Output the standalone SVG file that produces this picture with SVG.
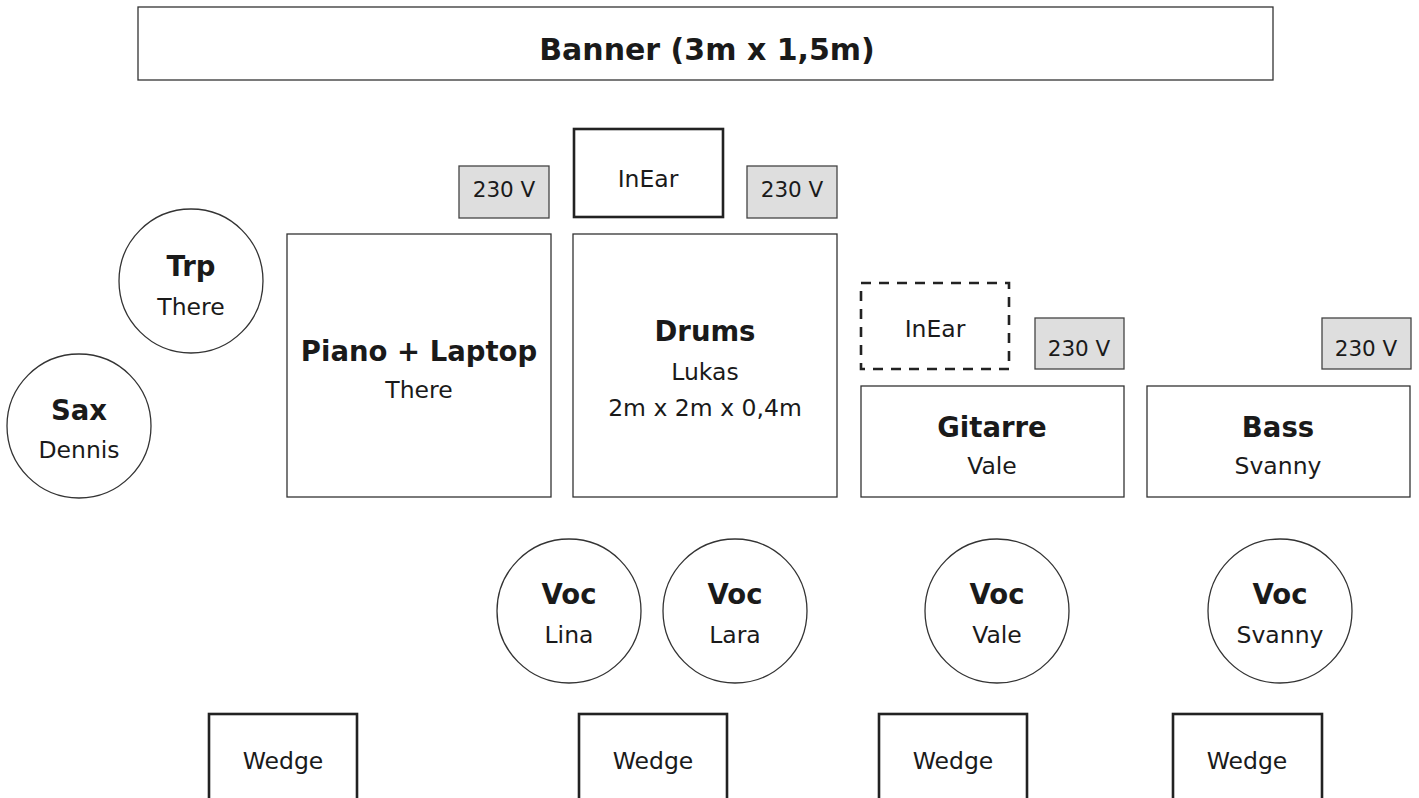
<svg xmlns="http://www.w3.org/2000/svg" width="1419" height="798" viewBox="0 0 1419 798">
<style>
.box{fill:#fff;stroke:#333;stroke-width:1.3}
.thick{fill:#fff;stroke:#222;stroke-width:2.6}
.dash{fill:none;stroke:#222;stroke-width:2.6;stroke-dasharray:10 8}
.pwr{fill:#dedede;stroke:#444;stroke-width:1.3}
text{font-family:"DejaVu Sans","Liberation Sans",sans-serif;fill:#1a1a1a;text-anchor:middle}
.b{font-weight:bold;font-size:27.5px}
.r{font-size:23.5px}
.s{font-size:21.5px}
</style>
<rect width="1419" height="798" fill="#fff"/>
<g id="banner"><rect class="box" x="138" y="7" width="1135" height="73"/><text class="b" x="707" y="60" style="font-size:30px">Banner (3m x 1,5m)</text></g>
<g id="pwr1"><rect class="pwr" x="459" y="166" width="90" height="52"/><text class="s" x="504" y="197">230 V</text></g>
<g id="inear1"><rect class="thick" x="574" y="129" width="149" height="88"/><text class="r" x="648" y="187">InEar</text></g>
<g id="pwr2"><rect class="pwr" x="747" y="166" width="90" height="52"/><text class="s" x="792" y="197">230 V</text></g>
<g id="trp"><circle class="box" cx="191" cy="281" r="72"/><text class="b" x="191" y="276">Trp</text><text class="r" x="191" y="315">There</text></g>
<g id="sax"><circle class="box" cx="79" cy="426" r="72"/><text class="b" x="79" y="420">Sax</text><text class="r" x="79" y="458">Dennis</text></g>
<g id="piano"><rect class="box" x="287" y="234" width="264" height="263"/><text class="b" x="419" y="361">Piano + Laptop</text><text class="r" x="419" y="398">There</text></g>
<g id="drums"><rect class="box" x="573" y="234" width="264" height="263"/><text class="b" x="705" y="341">Drums</text><text class="r" x="705" y="380">Lukas</text><text class="r" x="705" y="416">2m x 2m x 0,4m</text></g>
<g id="inear2"><rect class="dash" x="861" y="283" width="148" height="86"/><text class="r" x="935" y="337">InEar</text></g>
<g id="pwr3"><rect class="pwr" x="1035" y="318" width="89" height="51"/><text class="s" x="1079" y="356">230 V</text></g>
<g id="pwr4"><rect class="pwr" x="1322" y="318" width="89" height="51"/><text class="s" x="1366" y="356">230 V</text></g>
<g id="gitarre"><rect class="box" x="861" y="386" width="263" height="111"/><text class="b" x="992" y="437">Gitarre</text><text class="r" x="992" y="474">Vale</text></g>
<g id="bass"><rect class="box" x="1147" y="386" width="263" height="111"/><text class="b" x="1278" y="437">Bass</text><text class="r" x="1278" y="474">Svanny</text></g>
<g id="voc-lina"><circle class="box" cx="569" cy="611" r="72"/><text class="b" x="569" y="604">Voc</text><text class="r" x="569" y="643">Lina</text></g>
<g id="voc-lara"><circle class="box" cx="735" cy="611" r="72"/><text class="b" x="735" y="604">Voc</text><text class="r" x="735" y="643">Lara</text></g>
<g id="voc-vale"><circle class="box" cx="997" cy="611" r="72"/><text class="b" x="997" y="604">Voc</text><text class="r" x="997" y="643">Vale</text></g>
<g id="voc-svanny"><circle class="box" cx="1280" cy="611" r="72"/><text class="b" x="1280" y="604">Voc</text><text class="r" x="1280" y="643">Svanny</text></g>
<g id="wedge1"><rect class="thick" x="209" y="714" width="148" height="100"/><text class="r" x="283" y="769">Wedge</text></g>
<g id="wedge2"><rect class="thick" x="579" y="714" width="148" height="100"/><text class="r" x="653" y="769">Wedge</text></g>
<g id="wedge3"><rect class="thick" x="879" y="714" width="148" height="100"/><text class="r" x="953" y="769">Wedge</text></g>
<g id="wedge4"><rect class="thick" x="1173" y="714" width="149" height="100"/><text class="r" x="1247" y="769">Wedge</text></g>
<g id="connectors"></g>
</svg>
